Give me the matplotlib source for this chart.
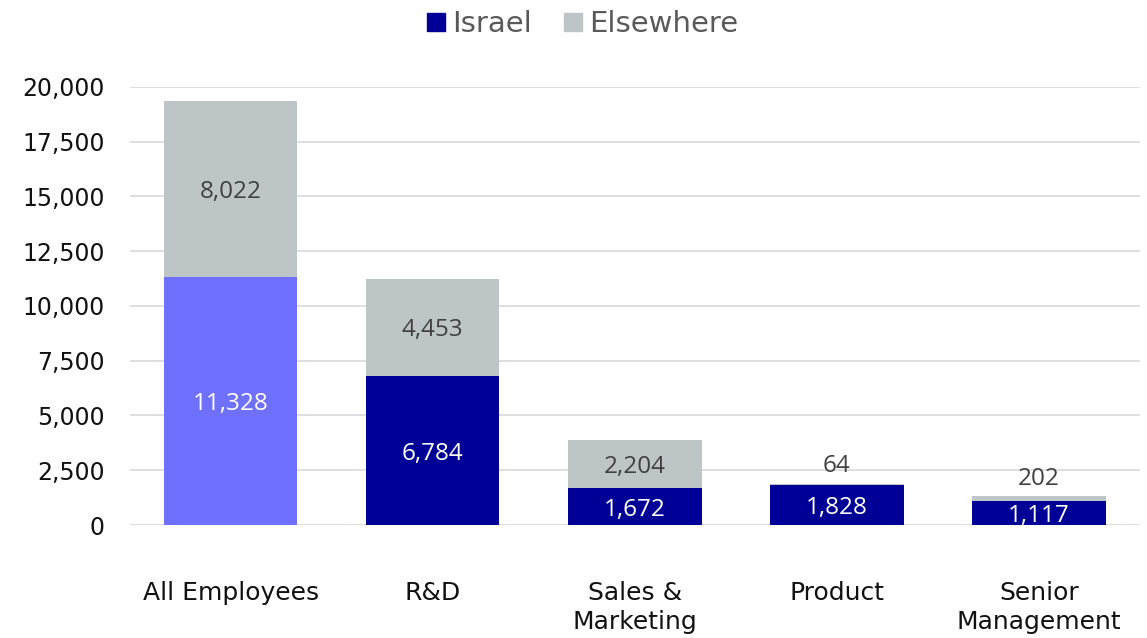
import numpy as np
import matplotlib.pyplot as plt
from matplotlib.ticker import FuncFormatter
from matplotlib.patches import Patch

plt.rcParams['font.family'] = ['DejaVu Sans']

categories = ['All Employees', 'R&D', 'Sales &\nMarketing', 'Product', 'Senior\nManagement']
israel = [11328, 6784, 1672, 1828, 1117]
elsewhere = [8022, 4453, 2204, 64, 202]

israel_color = '#000096'
highlight_color = '#7070ff'
elsewhere_color = '#bdc5c6'
label_font = ['Open Sans', 'DejaVu Sans']

fig = plt.figure(figsize=(11.47, 6.38), dpi=100)
ax = fig.add_axes([0.113, 0.177, 0.881, 0.687])

x = np.arange(len(categories))
width = 0.66
israel_colors = [highlight_color] + [israel_color] * (len(categories) - 1)

ax.bar(x, israel, width, color=israel_colors, zorder=2)
ax.bar(x, elsewhere, width, bottom=israel, color=elsewhere_color, zorder=2)

for i in range(len(categories)):
    ax.annotate(f'{israel[i]:,}', (x[i], israel[i] / 2), xytext=(0, -2),
                textcoords='offset points', ha='center', va='center',
                color='white', fontsize=17.5, family=label_font)
    if elsewhere[i] > 1000:
        ax.annotate(f'{elsewhere[i]:,}', (x[i], israel[i] + elsewhere[i] / 2), xytext=(0, -2),
                    textcoords='offset points', ha='center', va='center',
                    color='#404040', fontsize=17.5, family=label_font)
    else:
        ax.annotate(f'{elsewhere[i]:,}', (x[i], israel[i] + elsewhere[i]),
                    xytext=(0, 4), textcoords='offset points', ha='center', va='bottom',
                    color='#404040', fontsize=17.5, family=label_font)

ax.set_xlim(-0.5, len(categories) - 0.5)
ax.set_ylim(0, 20000)
ax.set_yticks(np.arange(0, 20001, 2500))
ax.yaxis.set_major_formatter(FuncFormatter(lambda v, p: f'{int(v):,}'))
ax.set_xticks(x)
ax.set_xticklabels(categories, fontsize=18, color='#111111', linespacing=1.28)
ax.tick_params(axis='y', labelsize=17, labelcolor='#111111', length=0, pad=18)
ax.tick_params(axis='x', length=0, pad=40)
ax.grid(axis='y', color='#d9d9d9', linewidth=1.2, zorder=0)
ax.set_axisbelow(True)
for s in ax.spines.values():
    s.set_visible(False)

handles = [Patch(color=israel_color, label='Israel'), Patch(color=elsewhere_color, label='Elsewhere')]
leg = fig.legend(handles=handles, loc='center', bbox_to_anchor=(0.508, 0.962), ncol=2,
                 frameon=False, fontsize=21, handlelength=0.6, handleheight=0.6,
                 handletextpad=0.25, columnspacing=1.1)
for t in leg.get_texts():
    t.set_color('#595959')

fig.savefig('out.png', dpi=100)
